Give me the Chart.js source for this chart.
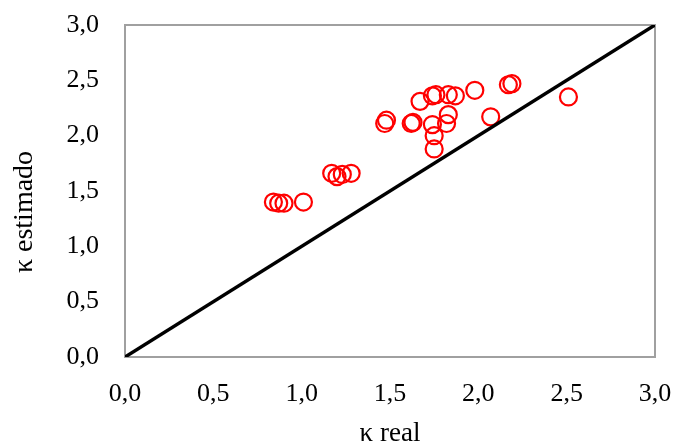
<!DOCTYPE html>
<html>
<head>
<meta charset="utf-8">
<script src="https://cdn.jsdelivr.net/npm/chart.js@4.4.0/dist/chart.umd.min.js"></script>
<style>
  html, body { margin: 0; padding: 0; background: #fff; }
  #wrap { width: 673px; height: 448px; }
</style>
</head>
<body>
<div id="wrap"><canvas id="c" width="673" height="448"></canvas></div>
<script>
// κ real (x) and κ estimado (y)
const kReal = [0.84, 0.87, 0.90, 1.01, 1.17, 1.20, 1.23, 1.28, 1.47, 1.48, 1.62, 1.63,
               1.67, 1.74, 1.76, 1.83, 1.87, 1.98, 1.74, 1.82, 1.83, 1.75, 1.75,
               2.07, 2.17, 2.19, 2.51];
const kEstimado = [1.40, 1.39, 1.39, 1.40, 1.66, 1.63, 1.65, 1.66, 2.11, 2.14, 2.11, 2.12,
                   2.31, 2.36, 2.37, 2.37, 2.36, 2.41, 2.10, 2.11, 2.19, 2.00, 1.88,
                   2.17, 2.46, 2.47, 2.35];
// reference line y = x
const lineX = [0, 3];
const lineY = [0, 3];
const tickValues = [0, 0.5, 1, 1.5, 2, 2.5, 3];
const xTitle = 'κ real';
const yTitle = 'κ estimado      ';

const fmt = v => Number(v).toFixed(1).replace('.', ',');
const serif = "'Liberation Serif', 'Times New Roman', serif";

const borderPlugin = {
  id: 'plotBorder',
  beforeDatasetsDraw(chart) {
    const a = chart.chartArea, ctx = chart.ctx;
    ctx.save();
    ctx.strokeStyle = '#a0a0a0';
    ctx.lineWidth = 2;
    ctx.strokeRect(a.left, a.top, a.right - a.left, a.bottom - a.top);
    ctx.restore();
  }
};

new Chart(document.getElementById('c'), {
  type: 'scatter',
  data: {
    datasets: [
      {
        type: 'line',
        data: lineX.map((x, i) => ({ x, y: lineY[i] })),
        borderColor: '#000',
        borderWidth: 3.5,
        pointRadius: 0,
        fill: false,
        order: 0
      },
      {
        data: kReal.map((x, i) => ({ x, y: kEstimado[i] })),
        pointStyle: 'circle',
        pointRadius: 8.5,
        pointBorderWidth: 2.2,
        pointBorderColor: '#ff0000',
        pointBackgroundColor: 'rgba(0,0,0,0)',
        order: 1
      }
    ]
  },
  options: {
    responsive: false,
    animation: false,
    layout: { padding: { left: 0, top: 25, right: 18, bottom: 0 } },
    plugins: { legend: { display: false }, tooltip: { enabled: false } },
    scales: {
      x: {
        type: 'linear', min: 0, max: 3,
        afterBuildTicks: s => { s.ticks = tickValues.map(v => ({ value: v })); },
        afterFit: s => { s.height = 91; s.paddingLeft = 0; s.paddingRight = 0; },
        grid: { display: false, drawTicks: false },
        border: { display: false },
        ticks: { color: '#000', font: { family: serif, size: 26 }, padding: 22, maxRotation: 0, callback: v => fmt(v) },
        title: { display: true, text: xTitle, color: '#000', font: { family: serif, size: 27 }, padding: { top: 0, bottom: -2 } }
      },
      y: {
        type: 'linear', min: 0, max: 3,
        afterBuildTicks: s => { s.ticks = tickValues.map(v => ({ value: v })); },
        afterFit: s => { s.width = 125; s.paddingTop = 0; s.paddingBottom = 0; },
        grid: { display: false, drawTicks: false },
        border: { display: false },
        ticks: { color: '#000', font: { family: serif, size: 26 }, padding: 26, callback: v => fmt(v) },
        title: { display: true, text: yTitle, color: '#000', font: { family: serif, size: 28 }, padding: { top: 8, bottom: 0 } }
      }
    }
  },
  plugins: [borderPlugin]
});
</script>
</body>
</html>
